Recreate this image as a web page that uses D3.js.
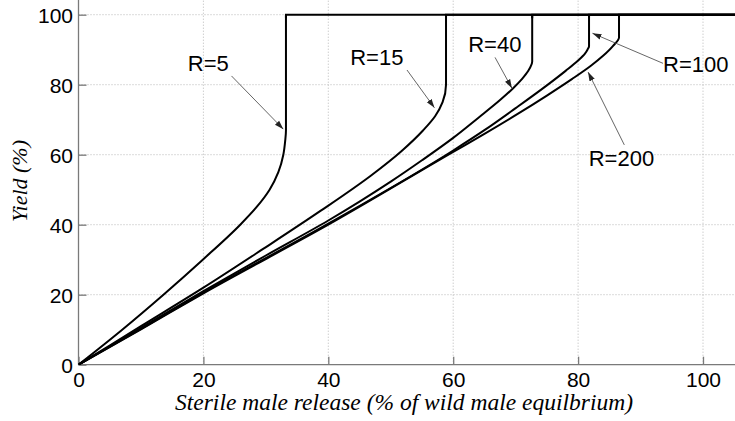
<!DOCTYPE html>
<html>
<head>
<meta charset="utf-8">
<script src="https://cdn.jsdelivr.net/npm/d3@7"></script>
<style>
  html, body { margin: 0; padding: 0; background: #fff; overflow: hidden; }
  svg { display: block; }
</style>
</head>
<body>
<svg id="chart" width="735" height="421"></svg>
<script>
// ---------------- DATA ----------------
const xTicks = [0, 20, 40, 60, 80, 100];
const yTicks = [0, 20, 40, 60, 80, 100];
const xLabel = "Sterile male release (% of wild male equilbrium)";
const yLabel = "Yield (%)";

// smooth part of each curve (up to the point where it turns vertical)
const r5X   = [0, 7, 13.6, 19.9, 25.9, 28.5, 30.6, 32.0, 32.8, 33.1, 33.22];
const r5Y   = [0, 10, 20, 30, 40, 45, 50, 55, 60, 64, 67];
const r15X  = [0, 10, 20, 29.5, 38.8, 46.8, 51.7, 55.2, 57.1, 58.3, 58.85];
const r15Y  = [0, 11, 22, 33, 44, 54, 61, 67, 71, 75, 80];
const r40X  = [0, 10, 20, 30, 40, 45, 50, 55, 60, 64, 67.5, 69.6, 71, 72, 72.65];
const r40Y  = [0, 10.5, 21, 31.2, 41.2, 46.6, 52.3, 58.4, 64.8, 70.5, 75.6, 79, 81.6, 83.9, 86.6];
const r100X = [0, 10, 20, 40, 60, 65, 70, 75, 78, 80, 81.1, 81.5, 81.75];
const r100Y = [0, 10.2, 20.6, 40.3, 61.2, 67.0, 73.3, 79.8, 83.95, 86.9, 88.9, 90.0, 91.0];
const r200X = [0, 10, 20, 40, 60, 65, 70, 75, 79, 82, 84, 85.6, 86.55];
const r200Y = [0, 10.1, 20.4, 40, 60.8, 65.95, 71.3, 76.9, 81.6, 85.35, 88.25, 91.1, 93.5];
const yieldMax = 100;
const xEnd = 106;

const seriesNames = ["R=5", "R=15", "R=40", "R=100", "R=200"];
const seriesX = [r5X, r15X, r40X, r100X, r200X];
const seriesY = [r5Y, r15Y, r40Y, r100Y, r200Y];

// annotation: label anchor (left, baseline) and arrow start/tip, in data units
const labelX  = [17.5, 43.5, 62.4, 93.6, 81.7];
const labelY  = [83.9, 85.6, 89.3, 83.7, 56.9];
const arrowX0 = [24.5, 52.6, 66.7, 93.6, 87.4];
const arrowY0 = [82.5, 84.2, 87.8, 86.1, 62.8];
const arrowX1 = [32.8, 57.0, 69.4, 82.3, 81.6];
const arrowY1 = [67.3, 73.4, 79.0, 94.7, 83.6];

// ---------------- LAYOUT ----------------
const W = 735, H = 421;
const x = d3.scaleLinear().domain([0, 100]).range([78.5, 703]);
const y = d3.scaleLinear().domain([0, 100]).range([364.7, 14.7]);
const plotRight = W, plotTop = 0;
const x0 = x(0), y0 = y(0);

const svg = d3.select("#chart");

const defs = svg.append("defs");
defs.append("marker")
  .attr("id", "arrow")
  .attr("viewBox", "0 0 10 10")
  .attr("refX", 10).attr("refY", 5)
  .attr("markerWidth", 9).attr("markerHeight", 9)
  .attr("markerUnits", "userSpaceOnUse")
  .attr("orient", "auto")
  .append("path")
  .attr("d", "M0,1.8 L10,5 L0,8.2 Z")
  .attr("fill", "#222");
defs.append("clipPath").attr("id", "plotclip")
  .append("rect").attr("x", x0).attr("y", plotTop)
  .attr("width", plotRight - x0).attr("height", y0 - plotTop);

// grid
const grid = svg.append("g");
grid.selectAll("line.gx").data(xTicks.filter(d => d > 0)).join("line")
  .attr("x1", d => x(d)).attr("x2", d => x(d))
  .attr("y1", y0).attr("y2", plotTop)
  .attr("stroke", "#b8b8b8").attr("stroke-width", 1)
  .attr("stroke-dasharray", "1,2");
grid.selectAll("line.gy").data(yTicks.filter(d => d > 0)).join("line")
  .attr("y1", d => y(d)).attr("y2", d => y(d))
  .attr("x1", x0).attr("x2", plotRight)
  .attr("stroke", "#b8b8b8").attr("stroke-width", 1)
  .attr("stroke-dasharray", "1,2");

// axes
const axisColor = "#7a7a7a";
const gx = svg.append("g").attr("transform", `translate(0,${y0})`)
  .call(d3.axisBottom(x).tickValues(xTicks).tickSizeInner(-8).tickSizeOuter(0).tickPadding(14));
gx.select(".domain").remove();
gx.append("line").attr("x1", x0).attr("x2", plotRight).attr("stroke", axisColor).attr("stroke-width", 1.3);
gx.selectAll(".tick line").attr("stroke", axisColor).attr("stroke-width", 1.3);
gx.selectAll(".tick text")
  .attr("fill", "#000").attr("font-family", "Liberation Sans, Arial, sans-serif")
  .attr("font-size", 21).attr("dy", null).attr("y", 22);

const gy = svg.append("g").attr("transform", `translate(${x0},0)`)
  .call(d3.axisLeft(y).tickValues(yTicks).tickSizeInner(-8).tickSizeOuter(0).tickPadding(6));
gy.select(".domain").remove();
gy.append("line").attr("y1", y0).attr("y2", plotTop).attr("stroke", axisColor).attr("stroke-width", 1.3);
gy.selectAll(".tick line").attr("stroke", axisColor).attr("stroke-width", 1.3);
gy.selectAll(".tick text")
  .attr("fill", "#000").attr("font-family", "Liberation Sans, Arial, sans-serif")
  .attr("font-size", 21).attr("x", -5.5).attr("dy", "0.36em");

// curves: x treated as a monotone function of yield (handles the vertical jump)
const curveG = svg.append("g").attr("clip-path", "url(#plotclip)");
const smooth = d3.line().x(d => x(d[0])).y(d => y(d[1])).curve(d3.curveMonotoneY);
const straight = d3.line().x(d => x(d[0])).y(d => y(d[1]));
seriesX.forEach((xs, i) => {
  const pts = xs.map((v, j) => [v, seriesY[i][j]]);
  const last = pts[pts.length - 1];
  pts.push([last[0], yieldMax]);
  curveG.append("path").attr("d", smooth(pts))
    .attr("fill", "none").attr("stroke", "#000").attr("stroke-width", 2);
  curveG.append("path").attr("d", straight([[last[0], yieldMax - 1], [last[0], yieldMax], [xEnd, yieldMax]]))
    .attr("fill", "none").attr("stroke", "#000").attr("stroke-width", 2)
    .attr("stroke-linejoin", "miter");
});

// annotations
const ann = svg.append("g");
seriesNames.forEach((name, i) => {
  ann.append("line")
    .attr("x1", x(arrowX0[i])).attr("y1", y(arrowY0[i]))
    .attr("x2", x(arrowX1[i])).attr("y2", y(arrowY1[i]))
    .attr("stroke", "#555").attr("stroke-width", 0.9)
    .attr("marker-end", "url(#arrow)");
  ann.append("text")
    .attr("x", x(labelX[i])).attr("y", y(labelY[i]))
    .attr("font-family", "Liberation Sans, Arial, sans-serif")
    .attr("font-size", 22).attr("fill", "#000")
    .text(name);
});

// axis titles
const xt = svg.append("text")
  .attr("x", 404).attr("y", 410).attr("text-anchor", "middle")
  .attr("font-family", "Liberation Serif, Times New Roman, serif")
  .attr("font-style", "italic").attr("font-size", 20).attr("fill", "#000")
  .text(xLabel);
const xw = xt.node().getComputedTextLength();
xt.attr("font-size", 20 * 458 / xw);

const yt = svg.append("text")
  .attr("transform", "translate(26.7,181) rotate(-90)")
  .attr("text-anchor", "middle")
  .attr("font-family", "Liberation Serif, Times New Roman, serif")
  .attr("font-style", "italic").attr("font-size", 20).attr("fill", "#000")
  .text(yLabel);
const yw = yt.node().getComputedTextLength();
yt.attr("font-size", 20 * 82 / yw);
</script>
</body>
</html>
